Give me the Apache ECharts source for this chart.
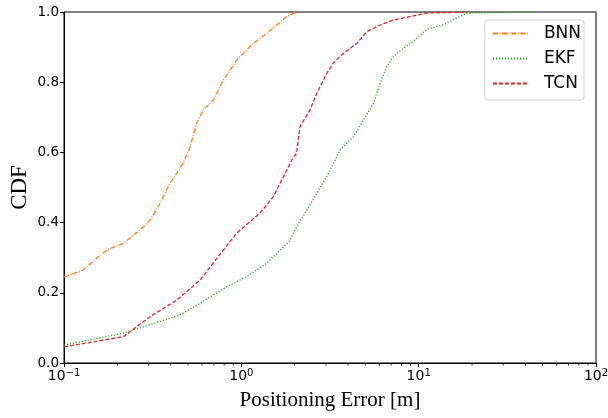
<!DOCTYPE html>
<html>
<head>
<meta charset="utf-8">
<script src="https://cdn.jsdelivr.net/npm/echarts@6/dist/echarts.min.js"></script>
<style>html,body{margin:0;padding:0;background:#fff}#c{width:608px;height:418px}</style>
</head>
<body>
<div id="c"></div>
<script>
const seriesNames = ['BNN', 'EKF', 'TCN'];
const bnnX = [0.1, 0.128, 0.174, 0.216, 0.268, 0.306, 0.348, 0.379, 0.396, 0.432, 0.47, 0.51, 0.56, 0.611, 0.695, 0.791, 0.942, 1.169, 1.39, 1.803, 2.05];
const bnnY = [0.245, 0.265, 0.322, 0.341, 0.379, 0.407, 0.455, 0.493, 0.512, 0.540, 0.57, 0.61, 0.683, 0.721, 0.749, 0.806, 0.863, 0.911, 0.939, 0.987, 1.0];
const ekfX = [0.1, 0.216, 0.451, 0.585, 0.828, 1.072, 1.39, 1.883, 2.05, 2.34, 2.66, 3.03, 3.30, 3.60, 4.29, 4.88, 5.56, 6.06, 6.61, 7.2, 8.2, 9.33, 11.1, 13.8, 15.7, 18.7, 44.4];
const ekfY = [0.051, 0.085, 0.137, 0.170, 0.217, 0.246, 0.284, 0.350, 0.388, 0.436, 0.483, 0.531, 0.567, 0.607, 0.645, 0.692, 0.740, 0.797, 0.844, 0.873, 0.897, 0.916, 0.950, 0.964, 0.978, 0.997, 1.0];
const tcnX = [0.1, 0.216, 0.306, 0.432, 0.585, 0.759, 0.942, 1.275, 1.516, 1.653, 1.96, 2.05, 2.14, 2.44, 2.66, 3.03, 3.30, 3.76, 4.48, 5.10, 6.06, 7.2, 11.1, 18.7];
const tcnY = [0.046, 0.075, 0.132, 0.179, 0.236, 0.31, 0.37, 0.427, 0.474, 0.512, 0.585, 0.597, 0.673, 0.721, 0.768, 0.825, 0.854, 0.882, 0.911, 0.944, 0.963, 0.977, 0.997, 1.0];
const minorTickValues = [0.2,0.3,0.4,0.5,0.6,0.7,0.8,0.9,2,3,4,5,6,7,8,9,20,30,40,50,60,70,80,90];
const yTicks = [0, 0.2, 0.4, 0.6, 0.8, 1.0];

const zip = (xs, ys) => xs.map((x, i) => [x, ys[i]]);
const colors = ['#ff7f0e', '#2ca02c', '#d62728'];
const dashes = [[5, 1.6, 1, 1.6], [1.2, 1.8], [4, 2]];
const datas = [zip(bnnX, bnnY), zip(ekfX, ekfY), zip(tcnX, tcnY)];

const chart = echarts.init(document.getElementById('c'), null, {renderer: 'canvas'});
const lineSeries = seriesNames.map((n, i) => ({
  name: n, type: 'line', data: datas[i], symbol: 'none', smooth: false,
  lineStyle: {color: colors[i], width: 1.3, type: dashes[i]},
  itemStyle: {color: colors[i]}, z: 3, clip: true
}));
chart.setOption({
  animation: false,
  backgroundColor: '#fff',
  grid: {left: 64, right: 12, top: 12, bottom: 55, containLabel: false, outerBoundsMode: 'none',
         show: true, borderColor: '#000', borderWidth: 1, backgroundColor: 'transparent'},
  legend: {
    orient: 'vertical', right: 24, top: 20,
    data: seriesNames,
    padding: [5, 3, 8, 7], itemGap: 8, itemWidth: 35, itemHeight: 18,
    backgroundColor: '#fff', borderColor: '#d5d5d5', borderWidth: 1, borderRadius: 3,
    formatter: name => '{g|}' + '{t|' + name + '}',
    textStyle: {fontFamily: 'DejaVu Sans', fontSize: 17, color: '#000',
      rich: {g: {width: 11}, t: {fontFamily: 'DejaVu Sans', fontSize: 17, color: '#000'}}},
    itemStyle: {opacity: 0}
  },
  xAxis: {
    type: 'log', logBase: 10, min: 0.1, max: 100,
    name: 'Positioning Error [m]', nameLocation: 'middle', nameGap: 27, nameMoveOverlap: false,
    nameTextStyle: {fontFamily: 'Liberation Serif', fontSize: 21, color: '#000'},
    axisLine: {show: true, lineStyle: {color: '#000', width: 1}},
    axisTick: {show: true, length: 4, lineStyle: {color: '#000'}},
    splitLine: {show: false},
    axisLabel: {
      color: '#000', margin: 5,
      formatter: v => '{b|10}{s|' + String(Math.round(Math.log10(v))).replace('-', '\u2212') + '}',
      rich: {b: {fontFamily: 'DejaVu Sans', fontSize: 14, color: '#000'},
             s: {fontFamily: 'DejaVu Sans', fontSize: 10, color: '#000', verticalAlign: 'top', padding: [0, 0, 7, 0]}}
    }
  },
  yAxis: {
    type: 'value', min: 0, max: 1, interval: 0.2,
    name: 'CDF', nameLocation: 'middle', nameGap: 33, nameMoveOverlap: false,
    nameTextStyle: {fontFamily: 'Liberation Serif', fontSize: 23, color: '#000'},
    axisLine: {show: true, lineStyle: {color: '#000', width: 1}},
    axisTick: {show: true, length: 4, lineStyle: {color: '#000'}},
    splitLine: {show: false},
    axisLabel: {color: '#000', fontFamily: 'DejaVu Sans', fontSize: 13.5, margin: 5, formatter: v => v.toFixed(1)}
  },
  series: lineSeries.concat([{
    type: 'custom', silent: true, clip: false, z: 5,
    data: minorTickValues.map(v => [v, 0]),
    renderItem: (params, api) => {
      const p = api.coord([api.value(0), 0]);
      return {type: 'line', shape: {x1: p[0], y1: p[1], x2: p[0], y2: p[1] + 2.5}, style: {stroke: '#000', lineWidth: 0.8}};
    }
  }])
});
</script>
</body>
</html>
